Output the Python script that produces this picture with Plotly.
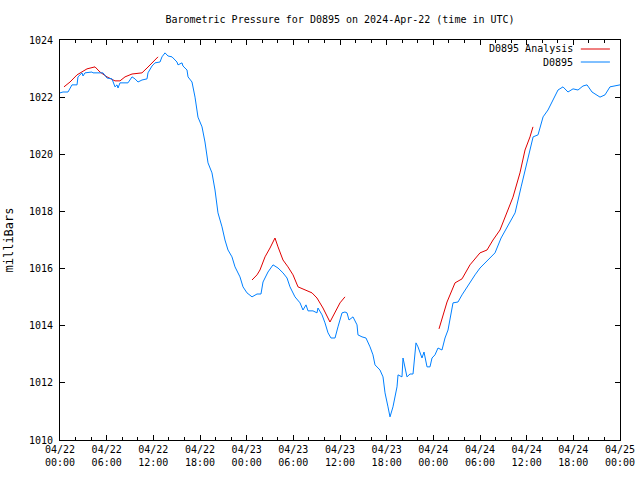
import pandas as pd
import plotly.graph_objects as go

# hours since 2024-04-22 00:00 UTC and pressure (mb) for station D0895
obs_hours = [0, 0.39, 1.03, 1.54, 2.19, 2.31, 2.83, 2.96, 3.21, 4.11, 4.24, 5.53, 6.04, 6.69, 7.07,
             7.33, 7.46, 7.71, 8.74, 9.26, 9.64, 10.03, 10.54, 11.19, 11.31, 11.83, 12.21, 12.86,
             13.11, 13.5, 13.89, 14.4, 15.04, 15.17, 15.69, 15.81, 16.33, 16.46, 16.97, 17.36,
             17.74, 18.26, 18.64, 19.03, 19.54, 19.93, 20.31, 20.83, 21.21, 21.6, 22.11, 22.5,
             23.14, 23.53, 24.04, 24.69, 25.33, 25.84, 26.1, 26.74, 27.39, 28.03, 28.67, 29.19,
             29.57, 30.21, 30.86, 31.24, 31.63, 31.89, 32.53, 33.04, 33.17, 33.69, 34.07, 34.46,
             34.84, 35.36, 35.74, 36.26, 36.64, 36.9, 37.16, 37.67, 38.19, 38.31, 38.83, 39.34,
             39.86, 40.24, 40.5, 41.14, 41.53, 41.79, 42.17, 42.43, 42.81, 43.33, 43.46, 43.97,
             44.1, 44.36, 44.61, 45.0, 45.39, 45.77, 46.03, 46.54, 46.8, 47.19, 47.57, 47.83,
             48.21, 48.6, 49.11, 49.5, 49.89, 50.53, 51.17, 51.69, 52.07, 52.71, 53.36, 54.0,
             54.77, 55.93, 56.71, 57.86, 58.51, 59.29, 59.8, 60.43, 60.83, 61.46, 62.11, 62.74,
             63.39, 64.03, 64.67, 65.31, 65.96, 66.6, 67.24, 67.76, 68.4, 69.43, 70.07, 70.71, 72.0]
obs_mb = [1022.15, 1022.18, 1022.18, 1022.43, 1022.43, 1022.71, 1022.85, 1022.74, 1022.85, 1022.88,
          1022.85, 1022.85, 1022.67, 1022.64, 1022.36, 1022.43, 1022.32, 1022.50, 1022.50, 1022.71,
          1022.64, 1022.53, 1022.60, 1022.64, 1022.85, 1023.09, 1023.20, 1023.23, 1023.41, 1023.55,
          1023.44, 1023.41, 1023.23, 1023.13, 1023.20, 1023.09, 1022.95, 1022.71, 1022.53, 1022.00,
          1021.30, 1020.96, 1020.43, 1019.70, 1019.35, 1018.75, 1017.95, 1017.46, 1017.00, 1016.65,
          1016.41, 1016.06, 1015.71, 1015.36, 1015.15, 1015.01, 1015.11, 1015.11, 1015.53, 1015.88,
          1016.13, 1016.02, 1015.85, 1015.67, 1015.36, 1015.01, 1014.80, 1014.55, 1014.73, 1014.52,
          1014.52, 1014.45, 1014.62, 1014.38, 1014.10, 1013.75, 1013.57, 1013.57, 1013.96, 1014.45,
          1014.48, 1014.45, 1014.20, 1014.31, 1014.03, 1013.68, 1013.61, 1013.57, 1013.26, 1012.98,
          1012.63, 1012.45, 1012.21, 1011.65, 1011.16, 1010.81, 1011.16, 1011.86, 1012.28, 1012.21,
          1012.87, 1012.56, 1012.21, 1012.31, 1012.31, 1013.40, 1013.26, 1012.87, 1013.08, 1012.56,
          1012.56, 1012.87, 1012.98, 1013.22, 1013.15, 1013.57, 1013.85, 1014.80, 1014.83, 1015.08,
          1015.25, 1015.53, 1015.78, 1016.02, 1016.23, 1016.55, 1017.07, 1017.63, 1017.95, 1018.86,
          1019.45, 1020.08, 1020.61, 1020.68, 1021.31, 1021.55, 1021.90, 1022.25, 1022.36, 1022.18,
          1022.29, 1022.25, 1022.39, 1022.43, 1022.18, 1022.00, 1022.08, 1022.36, 1022.43]

ana_hours_1 = [0.51, 1.29, 2.19, 2.83, 3.47, 4.5, 5.14, 6.04, 7.07, 7.71, 8.36, 9.26, 10.54, 11.19, 11.96, 12.6]
ana_mb_1 = [1022.36, 1022.53, 1022.78, 1022.88, 1022.99, 1023.06, 1022.88, 1022.71, 1022.57, 1022.57,
            1022.71, 1022.81, 1022.85, 1023.02, 1023.23, 1023.41]
ana_hours_2 = [24.69, 25.33, 25.71, 26.36, 27.0, 27.64, 28.03, 28.67, 29.31, 29.96, 30.6, 31.5, 32.4,
               33.04, 33.81, 34.71, 35.36, 36.0, 36.64]
ana_mb_2 = [1015.60, 1015.78, 1015.95, 1016.41, 1016.72, 1017.07, 1016.76, 1016.30, 1016.06, 1015.78,
            1015.36, 1015.25, 1015.15, 1014.97, 1014.62, 1014.13, 1014.48, 1014.80, 1015.01]
ana_hours_3 = [48.73, 49.76, 50.79, 51.69, 52.71, 54.0, 54.9, 55.67, 56.57, 57.47, 58.24, 59.14, 59.79,
               60.43, 60.81]
ana_mb_3 = [1013.89, 1014.83, 1015.50, 1015.64, 1016.13, 1016.55, 1016.65, 1017.00, 1017.35, 1017.95,
            1018.50, 1019.35, 1020.15, 1020.61, 1020.96]

tick_hours = list(range(0, 73, 6))
tick_labels = ["04/22<br>00:00", "04/22<br>06:00", "04/22<br>12:00", "04/22<br>18:00",
               "04/23<br>00:00", "04/23<br>06:00", "04/23<br>12:00", "04/23<br>18:00",
               "04/24<br>00:00", "04/24<br>06:00", "04/24<br>12:00", "04/24<br>18:00",
               "04/25<br>00:00"]

base = pd.Timestamp("2024-04-22 00:00")


def to_time(hrs):
    return [base + pd.Timedelta(hours=h) for h in hrs]


# analysis segments joined with gaps
ana_x, ana_y = [], []
for hs, vs in [(ana_hours_1, ana_mb_1), (ana_hours_2, ana_mb_2), (ana_hours_3, ana_mb_3)]:
    if ana_x:
        ana_x.append(ana_x[-1] + pd.Timedelta(minutes=1))
        ana_y.append(None)
    ana_x.extend(to_time(hs))
    ana_y.extend(vs)

RED = "#e00000"
BLUE = "#0080ff"
FONT = "DejaVu Sans Mono"

fig = go.Figure()
fig.add_trace(go.Scatter(x=ana_x, y=ana_y, mode="lines", name="D0895 Analysis",
                         line=dict(color=RED, width=1), connectgaps=False))
fig.add_trace(go.Scatter(x=to_time(obs_hours), y=obs_mb, mode="lines", name="D0895",
                         line=dict(color=BLUE, width=1)))

fig.update_layout(
    width=640, height=480,
    margin=dict(l=60, r=20, t=40, b=40, autoexpand=False),
    paper_bgcolor="white", plot_bgcolor="white",
    font=dict(family=FONT, size=10, color="black"),
    showlegend=False,
    title=dict(text="Barometric Pressure for D0895 on 2024-Apr-22 (time in UTC)",
               x=0.5, xref="paper", y=1 - 19 / 480, yanchor="middle", automargin=False,
               font=dict(family=FONT, size=10, color="black")),
)
fig.update_xaxes(
    type="date", automargin=False,
    range=[base, base + pd.Timedelta(hours=72)],
    tickmode="array", tickvals=to_time(tick_hours), ticktext=tick_labels,
    ticks="inside", ticklen=5, tickcolor="black", tickwidth=1,
    showline=True, linecolor="black", linewidth=1, mirror="allticks",
    showgrid=False, zeroline=False,
    minor=dict(ticks="inside", ticklen=3, tickcolor="black", dtick=2 * 3600 * 1000,
               tick0=base, showgrid=False),
)
fig.update_yaxes(
    range=[1010, 1024], dtick=2, tick0=1010, automargin=False,
    ticks="inside", ticklen=5, tickcolor="black", tickwidth=1,
    showline=True, linecolor="black", linewidth=1, mirror="allticks",
    showgrid=False, zeroline=False,
    title=dict(text="milliBars", standoff=12),
    ticklabelstandoff=4,
)

# hand-drawn legend (text right-aligned, sample line on the right, as in gnuplot)
legend_items = [("D0895 Analysis", RED, 0.9775), ("D0895", BLUE, 0.945)]
for label, color, ypos in legend_items:
    fig.add_annotation(text=label, xref="paper", yref="paper", x=0.92, y=ypos,
                       xanchor="right", yanchor="middle", showarrow=False,
                       font=dict(family=FONT, size=10, color="black"))
    fig.add_shape(type="line", xref="paper", yref="paper", x0=0.930, x1=0.982,
                  y0=ypos, y1=ypos, line=dict(color=color, width=1))

fig.write_html("out.html", config={"displayModeBar": False},
               post_script="document.body.style.margin='0';")
